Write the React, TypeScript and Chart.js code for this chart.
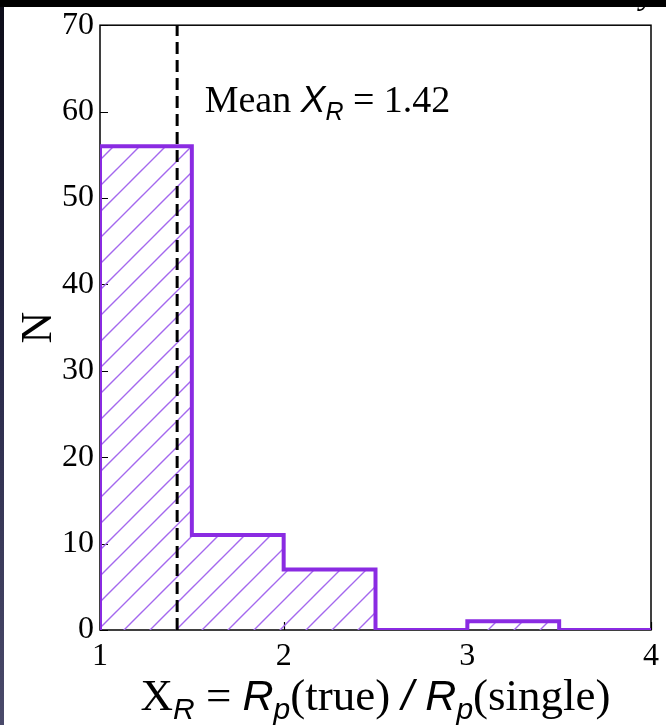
import React, { useEffect, useRef } from "react";
import { Chart, registerables } from "chart.js";

Chart.register(...registerables);

const binEdges = [1, 1.5, 2, 2.5, 3, 3.5, 4];
const counts = [56, 11, 7, 0, 1, 0];
const meanValue = 1.42;
const yTicks = [0, 10, 20, 30, 40, 50, 60, 70];
const xTicks = [1, 2, 3, 4];
const meanLabel = "1.42";
const annotX = 1.57;
const annotY = 59.9;

const SERIF = '"Liberation Serif", "Times New Roman", serif';
const SANS = '"Liberation Sans", Arial, sans-serif';

type Seg = { t: string; f: string; dy?: number };

function drawSegs(ctx: CanvasRenderingContext2D, segs: Seg[], x: number, y: number, align: "left" | "center") {
  ctx.save();
  ctx.textBaseline = "alphabetic";
  ctx.textAlign = "left";
  let total = 0;
  for (const s of segs) {
    ctx.font = s.f;
    total += ctx.measureText(s.t).width;
  }
  let cx = align === "center" ? x - total / 2 : x;
  for (const s of segs) {
    ctx.font = s.f;
    ctx.fillText(s.t, cx, y + (s.dy || 0));
    cx += ctx.measureText(s.t).width;
  }
  ctx.restore();
}

function makeHatch(): CanvasPattern | string {
  const size = 26;
  const c = document.createElement("canvas");
  c.width = size;
  c.height = size;
  const g = c.getContext("2d");
  if (!g) return "rgba(160,100,230,0.3)";
  g.strokeStyle = "#a468ee";
  g.lineWidth = 1.4;
  g.beginPath();
  g.moveTo(-2, size + 2);
  g.lineTo(size + 2, -2);
  g.moveTo(-2, 2);
  g.lineTo(2, -2);
  g.moveTo(size - 2, size + 2);
  g.lineTo(size + 2, size - 2);
  g.stroke();
  const p = g.createPattern(c, "repeat");
  return p || "rgba(160,100,230,0.3)";
}

export default function App() {
  const ref = useRef<HTMLCanvasElement | null>(null);

  useEffect(() => {
    if (!ref.current) return;
    const points = [{ x: binEdges[0], y: 0 }];
    counts.forEach((c, i) => points.push({ x: binEdges[i], y: c }));
    points.push({ x: binEdges[binEdges.length - 1], y: 0 });

    const decor = {
      id: "decor",
      beforeDraw(chart: any) {
        const ctx = chart.ctx as CanvasRenderingContext2D;
        const W = chart.width, H = chart.height;
        ctx.save();
        ctx.fillStyle = "#ffffff";
        ctx.fillRect(0, 0, W, H);
        const gr = ctx.createLinearGradient(0, 0, 0, H);
        gr.addColorStop(0, "#0c0c18");
        gr.addColorStop(0.5, "#2a2a4a");
        gr.addColorStop(1, "#4a4a6a");
        ctx.fillStyle = gr;
        ctx.fillRect(0, 0, 4, H);
        ctx.fillStyle = "#000";
        ctx.font = `italic 34px ${SERIF}`;
        ctx.fillText("y", 640, 4);
        ctx.fillRect(0, 0, W, 7);
        ctx.restore();
      },
      beforeDatasetsDraw(chart: any) {
        const ctx = chart.ctx as CanvasRenderingContext2D;
        const a = chart.chartArea;
        const xs = chart.scales.x, ys = chart.scales.y;
        ctx.save();
        ctx.strokeStyle = "#000";
        ctx.lineWidth = 1.5;
        ctx.strokeRect(a.left, a.top, a.right - a.left, a.bottom - a.top);
        ctx.lineWidth = 1.2;
        ctx.beginPath();
        for (const v of yTicks) {
          const py = Math.round(ys.getPixelForValue(v)) + 0.5;
          ctx.moveTo(a.left, py);
          ctx.lineTo(a.left + 8, py);
        }
        for (const v of xTicks) {
          const px = Math.round(xs.getPixelForValue(v)) + 0.5;
          ctx.moveTo(px, a.bottom);
          ctx.lineTo(px, a.bottom - 8);
        }
        ctx.stroke();
        ctx.restore();
      },
      afterDatasetsDraw(chart: any) {
        const ctx = chart.ctx as CanvasRenderingContext2D;
        const a = chart.chartArea;
        const xs = chart.scales.x, ys = chart.scales.y;
        ctx.save();
        const mx = xs.getPixelForValue(meanValue);
        ctx.strokeStyle = "#000";
        ctx.lineWidth = 3;
        ctx.setLineDash([12, 6]);
        ctx.beginPath();
        ctx.moveTo(mx, a.bottom);
        ctx.lineTo(mx, a.top);
        ctx.stroke();
        ctx.setLineDash([]);
        ctx.fillStyle = "#000";
        drawSegs(
          ctx,
          [
            { t: "Mean ", f: `38px ${SERIF}` },
            { t: "X", f: `italic 37px ${SANS}` },
            { t: "R", f: `italic 25px ${SANS}`, dy: 8 },
            { t: " = " + meanLabel, f: `38px ${SERIF}` },
          ],
          xs.getPixelForValue(annotX),
          ys.getPixelForValue(annotY),
          "left"
        );
        drawSegs(
          ctx,
          [
            { t: "X", f: `45px ${SERIF}` },
            { t: "R", f: `italic 30px ${SANS}`, dy: 9 },
            { t: " = ", f: `45px ${SERIF}` },
            { t: "R", f: `italic 43px ${SANS}` },
            { t: "p", f: `italic 30px ${SANS}`, dy: 9 },
            { t: "(true) ", f: `45px ${SERIF}` },
            { t: "/ ", f: `italic 43px ${SANS}` },
            { t: "R", f: `italic 43px ${SANS}` },
            { t: "p", f: `italic 30px ${SANS}`, dy: 9 },
            { t: "(single)", f: `45px ${SERIF}` },
          ],
          (a.left + a.right) / 2,
          710,
          "center"
        );
        ctx.translate(51, (a.top + a.bottom) / 2);
        ctx.rotate(-Math.PI / 2);
        ctx.font = `44px ${SERIF}`;
        ctx.textAlign = "center";
        ctx.textBaseline = "alphabetic";
        ctx.fillText("N", 0, 0);
        ctx.restore();
      },
    };

    const chart = new Chart(ref.current, {
      type: "line",
      data: {
        datasets: [
          {
            data: points,
            stepped: "before",
            borderColor: "#8a2be2",
            borderWidth: 4,
            backgroundColor: makeHatch() as any,
            fill: "origin",
            pointRadius: 0,
            borderJoinStyle: "miter",
          } as any,
        ],
      },
      options: {
        responsive: false,
        animation: false,
        events: [],
        layout: { padding: { left: 4, top: 23, right: 14, bottom: 0 } },
        plugins: { legend: { display: false }, tooltip: { enabled: false } },
        scales: {
          x: {
            type: "linear",
            min: 1,
            max: 4,
            afterFit: (s: any) => {
              s.height = 95;
            },
            afterBuildTicks: (s: any) => {
              s.ticks = xTicks.map((v) => ({ value: v }));
            },
            grid: { display: false, drawTicks: false },
            border: { display: false },
            ticks: {
              color: "#000",
              font: { family: SERIF, size: 32 },
              padding: 7,
              maxRotation: 0,
            },
          },
          y: {
            type: "linear",
            min: 0,
            max: 70,
            afterFit: (s: any) => {
              s.width = 96;
            },
            afterBuildTicks: (s: any) => {
              s.ticks = yTicks.map((v) => ({ value: v }));
            },
            grid: { display: false, drawTicks: false },
            border: { display: false },
            ticks: {
              color: "#000",
              font: { family: SERIF, size: 32 },
              padding: 6,
            },
          },
        },
      },
      plugins: [decor],
    });
    return () => chart.destroy();
  }, []);

  return (
    <div style={{ width: 666, height: 725 }}>
      <style>{`body{margin:0}`}</style>
      <canvas ref={ref} width={666} height={725} style={{ display: "block" }} />
    </div>
  );
}
